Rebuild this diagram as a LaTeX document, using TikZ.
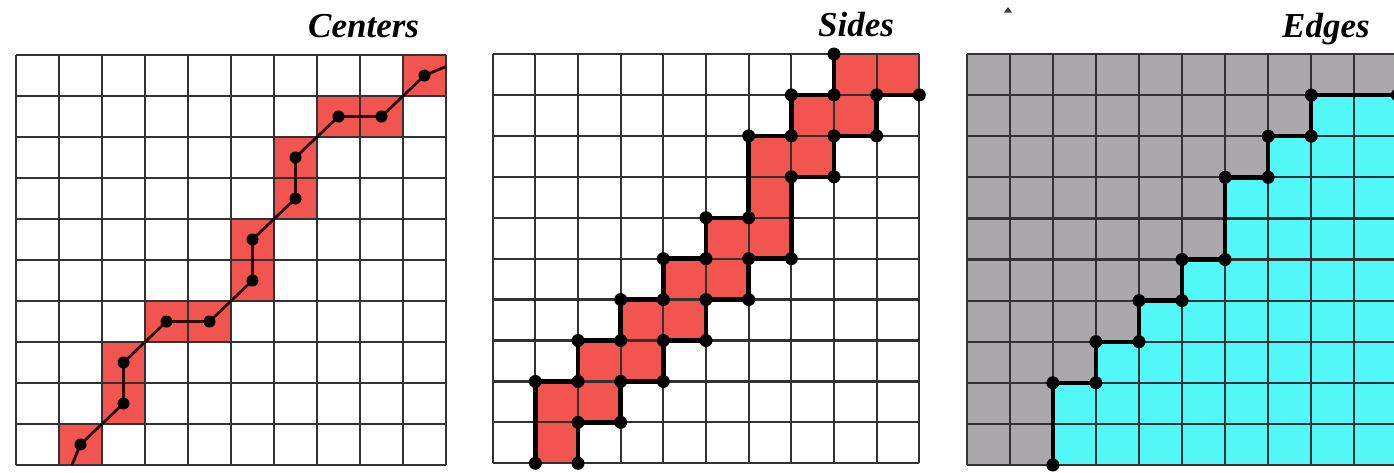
\documentclass[tikz,border=0pt]{standalone}
\usepackage{fontspec}
\setmainfont{Liberation Serif}
\definecolor{cellred}{RGB}{242,84,80}
\definecolor{gridgray}{RGB}{50,50,50}
\definecolor{bggray}{RGB}{170,168,170}
\definecolor{aqua}{RGB}{82,248,248}
\definecolor{pathdark}{RGB}{45,8,8}
\tikzset{
  gridline/.style={draw=gridgray, line width=2.2pt},
  thickline/.style={draw=black, line width=4.4pt, line join=round},
  centerline/.style={draw=pathdark, line width=2.8pt, line join=round},
  titletext/.style={font=\fontsize{35}{40}\selectfont\bfseries\itshape, anchor=base west, inner sep=0pt},
}
\begin{document}
\begin{tikzpicture}[x=1pt,y=-1pt]
\useasboundingbox[fill=white] (0,0) rectangle (1394,472);

% titles
\node[titletext] (tcenters) at (308,37) {Centers};
\node[titletext] (tsides) at (818,36) {Sides};
\node[titletext] (tedges) at (1282,37) {Edges};
\fill[black!75] (1004,12.5) -- (1012,12.5) -- (1008,7) -- cycle;

% ---------------- Panel 1: Centers ----------------
\begin{scope}[shift={(16pt,-465pt)}, x=43pt, y=41pt]
  \foreach \c/\r in {1/0,2/1,2/2,3/3,4/3,5/4,5/5,6/6,6/7,7/8,8/8,9/9}
    \fill[cellred] (\c,\r) rectangle ++(1,1);
  \draw[gridline, step={(1,1)}] (0,0) grid (10,10);
  \coordinate (cs) at (1.3,0);
  \coordinate (c1) at (1.5,0.5);
  \coordinate (c2) at (2.5,1.5);
  \coordinate (c3) at (2.5,2.5);
  \coordinate (c4) at (3.5,3.5);
  \coordinate (c5) at (4.5,3.5);
  \coordinate (c6) at (5.5,4.5);
  \coordinate (c7) at (5.5,5.5);
  \coordinate (c8) at (6.5,6.5);
  \coordinate (c9) at (6.5,7.5);
  \coordinate (c10) at (7.5,8.5);
  \coordinate (c11) at (8.5,8.5);
  \coordinate (c12) at (9.5,9.5);
  \coordinate (ce) at (10,9.72);
  \draw[centerline] (cs) -- (c1) -- (c2) -- (c3) -- (c4) -- (c5) -- (c6) -- (c7)
     -- (c8) -- (c9) -- (c10) -- (c11) -- (c12) -- (ce);
  \foreach \i in {1,...,12}
    \fill[black] (c\i) circle[radius=6pt];
\end{scope}

% ---------------- Panel 2: Sides ----------------
\begin{scope}[shift={(492.7pt,-463.3pt)}, x=42.66pt, y=40.93pt]
  \foreach \c/\r in {1/0,1/1,2/1,2/2,3/2,3/3,4/3,4/4,5/4,5/5,6/5,6/6,6/7,7/7,7/8,8/8,8/9,9/9}
    \fill[cellred] (\c,\r) rectangle ++(1,1);
  \draw[gridline, step={(1,1)}] (0,0) grid (10,10);
  \draw[thickline] (1,0) -- (1,2) -- (2,2) -- (2,3) -- (3,3) -- (3,4) -- (4,4) -- (4,5)
     -- (5,5) -- (5,6) -- (6,6) -- (6,8) -- (7,8) -- (7,9) -- (8,9) -- (8,10);
  \draw[thickline] (2,0) -- (2,1) -- (3,1) -- (3,2) -- (4,2) -- (4,3) -- (5,3) -- (5,4)
     -- (6,4) -- (6,5) -- (7,5) -- (7,7) -- (8,7) -- (8,8) -- (9,8) -- (9,9) -- (10,9);
  \foreach \p in {(1,0),(1,2),(2,2),(2,3),(3,3),(3,4),(4,4),(4,5),(5,5),(5,6),(6,6),(6,8),(7,8),(7,9),(8,9),(8,10),
                  (2,0),(2,1),(3,1),(3,2),(4,2),(4,3),(5,3),(5,4),(6,4),(6,5),(7,5),(7,7),(8,7),(8,8),(9,8),(9,9),(10,9)}
    \fill[black] \p circle[radius=6.5pt];
\end{scope}

% ---------------- Panel 3: Edges ----------------
\begin{scope}[shift={(966.7pt,-465pt)}, x=43.07pt, y=41.1pt]
  \fill[bggray] (0,0) rectangle (10.5,10);
  \fill[aqua] (2,0) -- (2,2) -- (3,2) -- (3,3) -- (4,3) -- (4,4) -- (5,4) -- (5,5) -- (6,5)
     -- (6,7) -- (7,7) -- (7,8) -- (8,8) -- (8,9) -- (10.5,9) -- (10.5,0) -- cycle;
  \draw[gridline, step={(1,1)}] (0,0) grid (10,10);
  \draw[thickline] (2,0) -- (2,2) -- (3,2) -- (3,3) -- (4,3) -- (4,4) -- (5,4) -- (5,5) -- (6,5)
     -- (6,7) -- (7,7) -- (7,8) -- (8,8) -- (8,9) -- (10,9);
  \foreach \p in {(2,0),(2,2),(3,2),(3,3),(4,3),(4,4),(5,4),(5,5),(6,5),(6,7),(7,7),(7,8),(8,8),(8,9),(10,9)}
    \fill[black] \p circle[radius=6.5pt];
\end{scope}
\end{tikzpicture}
\end{document}
